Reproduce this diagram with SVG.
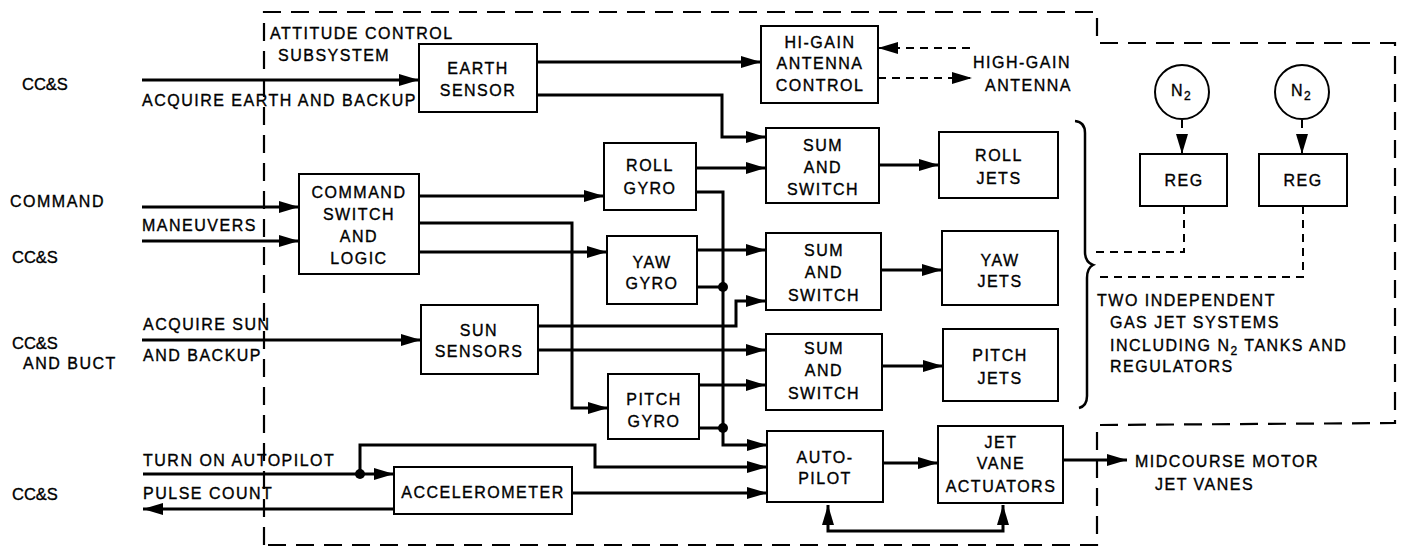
<svg xmlns="http://www.w3.org/2000/svg" width="1406" height="550" viewBox="0 0 1406 550">
<style>
text{font-family:"Liberation Sans",Arial,sans-serif;font-size:16px;letter-spacing:1.5px;fill:#000;stroke:#000;stroke-width:0.35}
.c{text-anchor:middle}
.box{fill:#fff;stroke:#000;stroke-width:2}
.ln{fill:none;stroke:#000;stroke-width:3}
.arr{marker-end:url(#ah)}
.dsh{fill:none;stroke:#000;stroke-width:2;stroke-dasharray:8 6}
.bnd{fill:none;stroke:#000;stroke-width:2.2;stroke-dasharray:18 10}
.sm{font-size:16.5px;letter-spacing:0}
</style>
<defs>
<marker id="ah" markerUnits="userSpaceOnUse" markerWidth="20" markerHeight="12" viewBox="0 0 20 12" refX="20" refY="6" orient="auto-start-reverse">
<path d="M0,0 L20,6 L0,12 Z" fill="#000"/>
</marker>
</defs>

<g id="boundary">
<path class="bnd" d="M264,545 L264,12 L1097,12 L1097,43 L1395,43 L1395,423 L1097,425 L1097,545 Z"/>
<text x="270" y="39">ATTITUDE CONTROL</text>
<text x="278" y="61">SUBSYSTEM</text>
</g>

<g id="connectors">
<path class="ln arr" d="M142,80 L419,80"/>
<path class="ln arr" d="M537,62 L761,62"/>
<path class="ln arr" d="M537,95 L722,95 L722,137 L766,137"/>
<path class="ln arr" d="M696,168 L766,168"/>
<path class="ln arr" d="M879,165 L939,165"/>
<path class="dsh arr" d="M970,48 L878,48"/>
<path class="dsh arr" d="M878,78 L972,78"/>
<path class="ln arr" d="M142,207 L299,207"/>
<path class="ln arr" d="M142,241 L299,241"/>
<path class="ln arr" d="M419,196 L604,196"/>
<path class="ln arr" d="M419,223 L572,223 L572,408 L608,408"/>
<path class="ln arr" d="M419,252 L607,252"/>
<path class="ln arr" d="M696,192 L723,192 L723,445 L767,445"/>
<path class="ln" d="M697,287 L723,287"/>
<path class="ln" d="M699,428 L723,428"/>
<circle cx="723" cy="287" r="5" fill="#000"/>
<circle cx="723" cy="428" r="5" fill="#000"/>
<path class="ln arr" d="M697,250 L766,250"/>
<path class="ln arr" d="M538,326 L736,326 L736,301 L766,301"/>
<path class="ln arr" d="M538,350 L766,350"/>
<path class="ln arr" d="M881,270 L942,270"/>
<path class="ln arr" d="M882,366 L943,366"/>
<path class="ln arr" d="M699,385 L766,385"/>
<path class="ln arr" d="M142,340 L421,340"/>
<path class="ln arr" d="M143,474 L394,474"/>
<path class="ln arr" d="M360,474 L360,445 L595,445 L595,467 L767,467"/>
<circle cx="360" cy="474" r="5" fill="#000"/>
<path class="ln arr" d="M394,509 L143,509"/>
<path class="ln arr" d="M572,493 L767,493"/>
<path class="ln arr" d="M883,463 L938,463"/>
<path class="ln" d="M828,505 L828,531 L1003,531 L1003,505" marker-start="url(#ah)" marker-end="url(#ah)"/>
<path class="ln arr" d="M1063,460 L1127,460"/>
<path class="dsh arr" d="M1182,120 L1182,154"/>
<path class="dsh arr" d="M1302,120 L1302,154"/>
<path class="dsh" d="M1184,206 L1184,252 L1092,252"/>
<path class="dsh" d="M1303,206 L1303,277 L1094,277"/>
<path fill="none" stroke="#000" stroke-width="2.5" d="M1075,121 Q1085,122 1085,133 L1085,252 Q1085,262 1093,265 Q1087,268 1087,278 L1087,396 Q1087,406 1079,408"/>
</g>

<g id="labels">
<text class="sm" x="22" y="90">CC&amp;S</text>
<text x="142" y="106">ACQUIRE EARTH AND BACKUP</text>
<text x="973" y="68">HIGH-GAIN</text>
<text x="985" y="91">ANTENNA</text>
<text x="10" y="207">COMMAND</text>
<text x="142" y="231">MANEUVERS</text>
<text class="sm" x="12" y="263">CC&amp;S</text>
<text x="143" y="330">ACQUIRE SUN</text>
<text x="143" y="361">AND BACKUP</text>
<text class="sm" x="12" y="349">CC&amp;S</text>
<text x="23" y="369">AND BUCT</text>
<text x="143" y="466">TURN ON AUTOPILOT</text>
<text x="143" y="499">PULSE COUNT</text>
<text class="sm" x="12" y="500">CC&amp;S</text>
<text x="1135" y="467">MIDCOURSE MOTOR</text>
<text x="1155" y="490">JET VANES</text>
<text x="1097" y="306">TWO INDEPENDENT</text>
<text x="1110" y="328">GAS JET SYSTEMS</text>
<text x="1110" y="351">INCLUDING N<tspan dy="4" font-size="12">2</tspan><tspan dy="-4"> TANKS AND</tspan></text>
<text x="1110" y="372">REGULATORS</text>
</g>

<g id="earth-sensor"><rect class="box" x="419" y="44" width="118" height="68"/><text class="c" x="478" y="74">EARTH</text><text class="c" x="478" y="96">SENSOR</text></g>
<g id="hi-gain"><rect class="box" x="761" y="26" width="117" height="77"/><text class="c" x="820" y="48">HI-GAIN</text><text class="c" x="820" y="69">ANTENNA</text><text class="c" x="820" y="91">CONTROL</text></g>
<g id="roll-gyro"><rect class="box" x="604" y="143" width="92" height="67"/><text class="c" x="650" y="171">ROLL</text><text class="c" x="650" y="194">GYRO</text></g>
<g id="sum1"><rect class="box" x="766" y="128" width="113" height="75"/><text class="c" x="823" y="151">SUM</text><text class="c" x="823" y="173">AND</text><text class="c" x="823" y="195">SWITCH</text></g>
<g id="roll-jets"><rect class="box" x="939" y="132" width="119" height="66"/><text class="c" x="999" y="161">ROLL</text><text class="c" x="999" y="184">JETS</text></g>
<g id="n2-1"><circle cx="1182" cy="92" r="27" fill="#fff" stroke="#000" stroke-width="2"/><text x="1171" y="96">N<tspan dy="4" font-size="12">2</tspan></text></g>
<g id="n2-2"><circle cx="1302" cy="92" r="27" fill="#fff" stroke="#000" stroke-width="2"/><text x="1291" y="96">N<tspan dy="4" font-size="12">2</tspan></text></g>
<g id="reg1"><rect class="box" x="1140" y="154" width="87" height="52"/><text class="c" x="1184" y="186">REG</text></g>
<g id="reg2"><rect class="box" x="1259" y="154" width="88" height="52"/><text class="c" x="1303" y="186">REG</text></g>
<g id="command-switch"><rect class="box" x="299" y="174" width="120" height="100"/><text class="c" x="359" y="198">COMMAND</text><text class="c" x="359" y="220">SWITCH</text><text class="c" x="359" y="242">AND</text><text class="c" x="359" y="264">LOGIC</text></g>
<g id="yaw-gyro"><rect class="box" x="607" y="236" width="90" height="68"/><text class="c" x="652" y="268">YAW</text><text class="c" x="652" y="289">GYRO</text></g>
<g id="sum2"><rect class="box" x="766" y="233" width="115" height="77"/><text class="c" x="824" y="256">SUM</text><text class="c" x="824" y="278">AND</text><text class="c" x="824" y="301">SWITCH</text></g>
<g id="yaw-jets"><rect class="box" x="942" y="231" width="116" height="74"/><text class="c" x="1000" y="266">YAW</text><text class="c" x="1000" y="287">JETS</text></g>
<g id="sun-sensors"><rect class="box" x="421" y="305" width="117" height="69"/><text class="c" x="479" y="336">SUN</text><text class="c" x="479" y="357">SENSORS</text></g>
<g id="sum3"><rect class="box" x="766" y="334" width="116" height="76"/><text class="c" x="824" y="354">SUM</text><text class="c" x="824" y="376">AND</text><text class="c" x="824" y="399">SWITCH</text></g>
<g id="pitch-jets"><rect class="box" x="943" y="329" width="115" height="72"/><text class="c" x="1000" y="361">PITCH</text><text class="c" x="1000" y="384">JETS</text></g>
<g id="pitch-gyro"><rect class="box" x="608" y="374" width="91" height="65"/><text class="c" x="654" y="405">PITCH</text><text class="c" x="654" y="427">GYRO</text></g>
<g id="autopilot"><rect class="box" x="767" y="431" width="116" height="71"/><text class="c" x="825" y="463">AUTO-</text><text class="c" x="825" y="484">PILOT</text></g>
<g id="jet-vane-actuators"><rect class="box" x="938" y="426" width="125" height="77"/><text class="c" x="1001" y="448">JET</text><text class="c" x="1001" y="469">VANE</text><text class="c" x="1001" y="492">ACTUATORS</text></g>
<g id="accelerometer"><rect class="box" x="394" y="467" width="178" height="47"/><text class="c" x="483" y="498">ACCELEROMETER</text></g>
</svg>
